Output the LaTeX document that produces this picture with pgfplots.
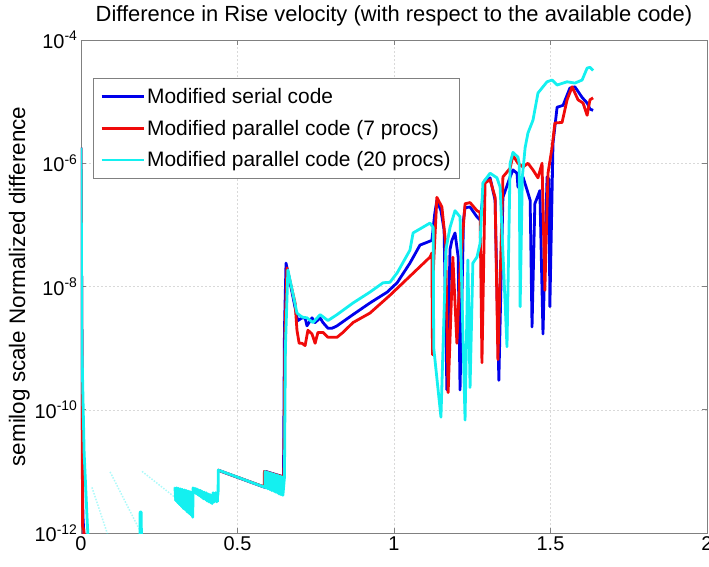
\documentclass[border=0pt]{standalone}
\usepackage{pgfplots}
\pgfplotsset{compat=1.18}
\usepackage{fontspec}
\setmainfont{Liberation Sans}
\definecolor{mblue}{RGB}{0,0,235}
\definecolor{mred}{RGB}{240,10,10}
\definecolor{mcyan}{RGB}{20,240,240}
\begin{document}
\begin{tikzpicture}
\begin{axis}[
  scale only axis, width=626bp, height=493bp,
  xmin=0, xmax=2, ymin=1e-12, ymax=1e-4, ymode=log,
  xtick={0,0.5,1,1.5,2}, xticklabels={0,0.5,1,1.5,2},
  ytick={1e-12,1e-10,1e-8,1e-6,1e-4},
  yticklabels={10\textsuperscript{-12},10\textsuperscript{-10},10\textsuperscript{-8},10\textsuperscript{-6},10\textsuperscript{-4}},
  minor ytick={},
  tick label style={font=\fontsize{20}{20}\selectfont},
  grid=major, major grid style={dash pattern=on 2bp off 2bp, black!15},
  axis line style={black!50, line width=0.8bp}, tick style={black!50, line width=0.8bp},
  tick align=inside, major tick length=5bp, minor tick length=0bp,
  title={Difference in Rise velocity (with respect to the available code)},
  title style={font=\fontsize{22}{22}\selectfont, yshift=4bp},
  ylabel={semilog scale Normalized difference},
  ylabel style={font=\fontsize{22.5}{22.5}\selectfont, yshift=-2bp},
  unbounded coords=jump,
  legend style={at={(0.019,0.923)}, anchor=north west, draw=black!50, line width=0.8bp, fill=white,
    font=\fontsize{21}{21}\selectfont, row sep=11bp, inner xsep=7bp, inner ysep=8bp, cells={anchor=west},
    /tikz/every even column/.append style={column sep=1bp}},
  legend image code/.code={\draw[#1, line width=2.8bp] (0bp,0bp) -- (42bp,0bp);},
]
% Modified serial code
\addplot[mblue, line width=2.8bp, line join=round] coordinates {
(0,1.8e-6) (0.003,1e-9) (0.006,2e-12) (0.010,8e-13) (0.02,nan)
(0.437,1.05e-11) (0.588,5.5e-12) (0.589,1.0e-11) (0.645,8.2e-12) (0.647,8.2e-12)
(0.650,2e-9) (0.655,2.4e-8) (0.668,1.15e-8) (0.690,3.2e-9) (0.693,2.8e-9)
(0.706,3.1e-9) (0.716,3.1e-9) (0.722,2.3e-9) (0.738,3.1e-9) (0.748,2.6e-9)
(0.764,3.1e-9) (0.773,2.6e-9) (0.789,2.1e-9) (0.802,2.1e-9) (0.818,2.3e-9)
(0.869,3.5e-9) (0.923,5.4e-9) (0.978,8.1e-9) (1.010,1.15e-8) (1.051,2.4e-8)
(1.083,4.7e-8) (1.121,5.6e-8) (1.130,1.5e-7) (1.137,2.5e-7) (1.150,1.7e-7)
(1.160,8.3e-8) (1.169,2.1e-10) (1.179,4e-8) (1.185,5.6e-8) (1.195,7.4e-8)
(1.205,3e-8) (1.211,2.1e-10) (1.222,1.2e-7) (1.227,1.9e-7) (1.243,1.95e-7)
(1.265,1.35e-7) (1.275,1.2e-7) (1.291,5.4e-7) (1.300,5.4e-7) (1.307,5.8e-7)
(1.323,2.5e-7) (1.335,3.0e-10) (1.348,2.8e-7) (1.371,6.0e-7) (1.380,7.8e-7)
(1.393,6.9e-7) (1.396,4.1e-7) (1.412,6.0e-7) (1.428,3.3e-7) (1.435,2.5e-7)
(1.441,2.2e-9) (1.450,2.2e-7) (1.466,3.6e-7) (1.476,1.7e-9) (1.489,6.0e-7)
(1.495,5.5e-7) (1.498,4.7e-9) (1.508,2.1e-6) (1.521,8.1e-6) (1.540,8.7e-6)
(1.562,1.66e-5) (1.578,1.74e-5) (1.601,1.17e-5) (1.617,9.5e-6) (1.626,7.6e-6)
(1.636,7.2e-6)
};
\addlegendentry{Modified serial code}
% Modified parallel code (7 procs)
\addplot[mred, line width=2.8bp, line join=round] coordinates {
(0,1.8e-6) (0.003,1e-9) (0.005,1.3e-12) (0.009,1.1e-12) (0.011,5e-13) (0.02,nan)
(0.437,1.05e-11) (0.585,5.6e-12) (0.586,1.0e-11) (0.645,8.2e-12) (0.648,8.2e-12)
(0.652,2e-9) (0.658,2.0e-8) (0.684,5.4e-9) (0.690,1.95e-9) (0.697,1.2e-9)
(0.706,1.2e-9) (0.716,1.1e-9) (0.725,1.95e-9) (0.738,1.7e-9) (0.748,1.2e-9)
(0.757,1.8e-9) (0.773,1.8e-9) (0.789,1.5e-9) (0.818,1.5e-9) (0.837,1.8e-9)
(0.869,2.6e-9) (0.923,3.7e-9) (0.987,7.2e-9) (1.029,1.15e-8) (1.115,3.0e-8)
(1.121,3.5e-8) (1.123,7.8e-10) (1.126,2e-8) (1.137,2.8e-7) (1.153,1.95e-7)
(1.165,5e-8) (1.173,1.9e-10) (1.188,3.0e-8) (1.201,1.2e-9) (1.211,1.86e-8)
(1.227,2.2e-7) (1.243,2.3e-7) (1.265,1.7e-7) (1.275,1.6e-7) (1.281,5.8e-10)
(1.291,4.8e-7) (1.307,5.4e-7) (1.323,2.8e-7) (1.332,6.5e-10) (1.348,6.0e-7)
(1.371,8.3e-7) (1.380,1.35e-6) (1.396,1.0e-6) (1.412,8.7e-7) (1.428,1.0e-6)
(1.444,7.8e-7) (1.460,5.8e-7) (1.473,1.0e-6) (1.482,8.7e-9) (1.492,6.9e-7)
(1.505,1.8e-6) (1.514,4.5e-6) (1.537,4.6e-6) (1.553,1.07e-5) (1.569,1.74e-5)
(1.588,1.07e-5) (1.604,9.5e-6) (1.617,6.0e-6) (1.626,1.07e-5) (1.636,1.15e-5)
};
\addlegendentry{Modified parallel code (7 procs)}
% Modified parallel code (20 procs)
\addplot[mcyan, line width=2.8bp, line join=round] coordinates {
(0,1.8e-6) (0.003,1e-9) (0.010,2e-11) (0.020,1.5e-12) (0.025,5e-13) (0.03,nan)
(0.188,5e-13) (0.189,2.2e-12) (0.192,2.2e-12) (0.194,5e-13) (0.2,nan)
(0.300,5.5e-12) (0.303,3.4e-12) (0.306,5.4e-12) (0.309,3.1e-12) (0.312,5.3e-12)
(0.315,2.9e-12) (0.318,5.2e-12) (0.321,2.7e-12) (0.324,5.1e-12) (0.327,2.5e-12)
(0.330,5.0e-12) (0.333,2.4e-12) (0.336,4.9e-12) (0.339,2.2e-12) (0.342,4.8e-12)
(0.345,2.1e-12) (0.348,4.7e-12) (0.351,2.0e-12) (0.354,4.6e-12) (0.357,1.8e-12)
(0.358,5.4e-12) (0.361,4.6e-12) (0.364,5.3e-12) (0.367,4.4e-12) (0.370,5.2e-12)
(0.373,4.2e-12) (0.376,5.0e-12) (0.379,4.0e-12) (0.382,4.9e-12) (0.385,3.8e-12)
(0.388,4.7e-12) (0.391,3.6e-12) (0.394,4.6e-12) (0.397,3.5e-12) (0.400,4.5e-12)
(0.403,3.3e-12) (0.406,4.3e-12) (0.409,3.2e-12) (0.412,4.2e-12) (0.415,3.1e-12)
(0.418,4.1e-12) (0.419,3.0e-12)
(0.422,4.5e-12) (0.426,3.2e-12) (0.430,4.5e-12) (0.434,3.2e-12) (0.438,4.5e-12)
(0.4385,1.05e-11) (0.588,5.5e-12)
(0.588,1.0e-11) (0.591,5.4e-12) (0.594,9.8e-12) (0.597,5.2e-12) (0.600,9.6e-12)
(0.603,5.1e-12) (0.606,9.4e-12) (0.609,4.9e-12) (0.612,9.2e-12) (0.615,4.8e-12)
(0.618,9.0e-12) (0.621,4.6e-12) (0.624,8.8e-12) (0.627,4.5e-12) (0.630,8.6e-12)
(0.633,4.3e-12) (0.636,8.4e-12) (0.639,4.2e-12) (0.642,8.2e-12) (0.645,4.1e-12)
(0.650,8e-12) (0.653,1e-9) (0.661,1.86e-8) (0.690,3.7e-9) (0.706,3.2e-9)
(0.722,3.1e-9) (0.741,2.6e-9) (0.764,3.5e-9) (0.789,2.8e-9) (0.818,3.5e-9)
(0.869,5.4e-9) (0.923,8.1e-9) (0.965,1.15e-8) (0.987,1.17e-8) (1.010,1.66e-8)
(1.051,3.9e-8) (1.061,7.4e-8) (1.115,1.07e-7) (1.125,9.1e-8) (1.127,1.0e-9)
(1.150,7.6e-11) (1.166,4e-8) (1.179,9.1e-8) (1.195,1.7e-7) (1.211,1.35e-7)
(1.227,6.8e-11) (1.236,2.7e-8) (1.243,2.3e-10) (1.252,2.4e-8) (1.265,3.0e-8)
(1.275,5.0e-8) (1.284,4.8e-7) (1.307,6.9e-7) (1.329,5.8e-7) (1.339,4.1e-7)
(1.361,1.05e-9) (1.371,1.0e-6) (1.380,1.5e-6) (1.396,1.26e-6) (1.400,1.0e-6)
(1.403,4.7e-9) (1.410,6e-7) (1.419,1.8e-6) (1.428,3.1e-6) (1.444,5.0e-6)
(1.460,1.38e-5) (1.489,2.1e-5) (1.505,2.24e-5) (1.521,1.86e-5) (1.553,2.1e-5)
(1.578,2.0e-5) (1.601,2.24e-5) (1.617,3.5e-5) (1.626,3.6e-5) (1.636,3.2e-5)
};
\addlegendentry{Modified parallel code (20 procs)}
% filled oscillation blocks of the 20-procs run
\addplot[forget plot, draw=mcyan, fill=mcyan, line width=1bp] coordinates {
(0.300,5.5e-12) (0.357,4.6e-12) (0.357,1.8e-12) (0.300,3.4e-12)} -- cycle;
\addplot[forget plot, draw=mcyan, fill=mcyan, line width=1bp] coordinates {
(0.358,5.4e-12) (0.419,4.1e-12) (0.419,3.0e-12) (0.358,4.6e-12)} -- cycle;
\addplot[forget plot, draw=mcyan, fill=mcyan, line width=1bp] coordinates {
(0.421,4.5e-12) (0.438,4.5e-12) (0.438,3.2e-12) (0.421,3.2e-12)} -- cycle;
\addplot[forget plot, draw=mcyan, fill=mcyan, line width=1bp] coordinates {
(0.588,1.0e-11) (0.645,8.2e-12) (0.645,4.1e-12) (0.588,5.5e-12)} -- cycle;
% faint early streaks
\addplot[forget plot, mcyan, line width=1.5bp, opacity=0.35, dash pattern=on 1.5bp off 1.5bp] coordinates {
(0.035,5.5e-12) (0.090,8e-13) (0.091,nan)
(0.093,9.8e-12) (0.188,1.1e-12) (0.189,nan)
(0.195,1.0e-11) (0.300,3.8e-12)
};
\end{axis}
\pgfresetboundingbox
\path ([shift={(-81bp,-34bp)}]current axis.south west) rectangle ([shift={(2bp,40bp)}]current axis.north east);
\end{tikzpicture}
\end{document}
